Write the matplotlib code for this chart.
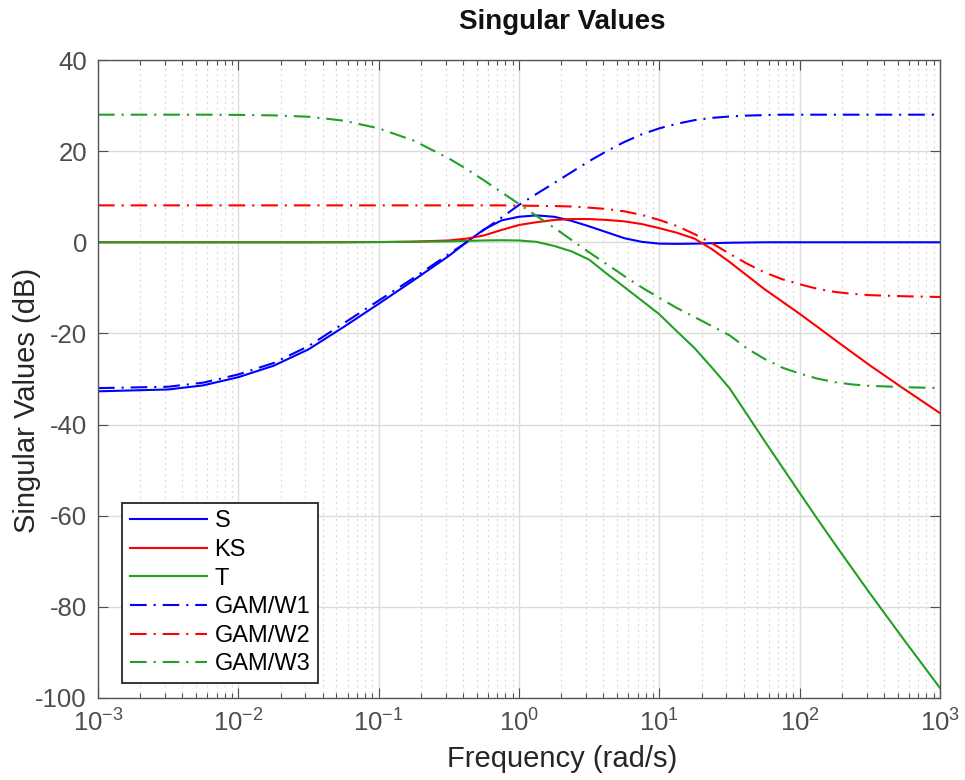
import matplotlib
matplotlib.use("Agg")
import matplotlib.pyplot as plt
from matplotlib.ticker import LogLocator, FixedLocator, NullFormatter

plt.rcParams['font.family'] = ['Liberation Sans', 'DejaVu Sans']
plt.rcParams['mathtext.fontset'] = 'custom'
plt.rcParams['mathtext.rm'] = 'Liberation Sans'
plt.rcParams['mathtext.default'] = 'regular'
plt.rcParams['axes.unicode_minus'] = False
plt.rcParams['lines.scale_dashes'] = False

# ---- data ----
freq = [1e-3, 3.16e-3, 5.62e-3, 1e-2, 1.78e-2, 3.16e-2, 5.62e-2, 0.1, 0.178, 0.316,
        0.422, 0.562, 0.750, 1.0, 1.33, 1.78, 2.37, 3.16, 4.22, 5.62, 7.50, 10.0,
        13.3, 17.8, 23.7, 31.6, 42.2, 56.2, 75.0, 100.0, 133.0, 178.0, 237.0,
        316.0, 562.0, 1000.0]

S_db = [-32.7, -32.3, -31.4, -29.6, -27.1, -23.5, -18.6, -13.5, -8.3, -3.0,
        0.0, 2.8, 4.8, 5.6, 5.9, 5.6, 4.7, 3.5, 2.2, 0.9, 0.1, -0.3,
        -0.35, -0.3, -0.2, -0.1, -0.05, 0.0, 0.0, 0.0, 0.0, 0.0, 0.0,
        0.0, 0.0, 0.0]

KS_db = [0.0, 0.0, 0.0, 0.0, 0.0, 0.0, 0.02, 0.05, 0.15, 0.4,
         0.8, 1.5, 2.7, 3.8, 4.4, 4.9, 5.1, 5.1, 4.9, 4.6, 4.0, 3.1,
         2.1, 0.8, -1.5, -4.3, -7.3, -10.3, -13.0, -15.7, -18.5, -21.4, -24.2,
         -27.0, -32.3, -37.5]

T_db = [0.0, 0.0, 0.0, 0.0, 0.0, 0.0, 0.0, 0.05, 0.1, 0.2,
        0.3, 0.4, 0.45, 0.4, 0.1, -0.8, -2.0, -3.8, -6.9, -9.8, -12.8, -15.8,
        -19.5, -23.2, -27.5, -32.0, -37.8, -43.6, -49.3, -55.0, -60.6, -66.2, -71.6,
        -77.0, -87.5, -97.8]

W1_db = [-32.0, -31.7, -30.8, -29.0, -26.5, -22.8, -17.8, -12.8, -7.8, -2.6,
         0.0, 2.7, 5.4, 8.2, 10.6, 13.0, 15.4, 17.8, 20.0, 22.0, 23.7, 25.0,
         26.0, 26.8, 27.3, 27.6, 27.8, 27.9, 28.0, 28.0, 28.0, 28.0, 28.0,
         28.0, 28.0, 28.0]

W2_db = [8.1, 8.1, 8.1, 8.1, 8.1, 8.1, 8.1, 8.1, 8.1, 8.1,
         8.1, 8.1, 8.1, 8.05, 8.0, 7.95, 7.85, 7.6, 7.3, 6.8, 6.0, 4.9,
         3.6, 1.8, -0.2, -2.5, -4.7, -6.6, -8.1, -9.2, -10.2, -10.9, -11.3,
         -11.6, -11.85, -12.0]

W3_db = [28.0, 28.0, 28.0, 27.95, 27.85, 27.55, 26.7, 25.0, 22.3, 18.4,
         16.1, 13.6, 11.0, 8.4, 5.8, 3.2, 0.5, -2.2, -4.8, -7.4, -9.9, -12.2,
         -14.4, -16.4, -18.4, -20.4, -23.3, -25.6, -27.5, -28.8, -29.9, -30.7, -31.2,
         -31.5, -31.8, -32.0]

labels = ['S', 'KS', 'T', 'GAM/W1', 'GAM/W2', 'GAM/W3']
xticks = [1e-3, 1e-2, 1e-1, 1e0, 1e1, 1e2, 1e3]
xticklabels = ['$10^{-3}$', '$10^{-2}$', '$10^{-1}$', '$10^{0}$', '$10^{1}$', '$10^{2}$', '$10^{3}$']
yticks = [-100, -80, -60, -40, -20, 0, 20, 40]

# ---- figure ----
fig = plt.figure(figsize=(9.65, 7.8), dpi=100)
ax = fig.add_axes([98/965, 82/780, 842/965, 638/780])

blue = '#0000ff'
red = '#ff0000'
green = '#22a022'
dashdot = (0, (12, 5, 1.5, 5))
lw = 1.5

series = [S_db, KS_db, T_db, W1_db, W2_db, W3_db]
colors = [blue, red, green, blue, red, green]
styles = ['-', '-', '-', dashdot, dashdot, dashdot]
for vals, c, ls, lab in zip(series, colors, styles, labels):
    ax.plot(freq, vals, color=c, linestyle=ls, linewidth=lw, label=lab)

ax.set_xscale('log')
ax.set_xlim(1e-3, 1e3)
ax.set_ylim(-100, 40)
ax.xaxis.set_major_locator(FixedLocator(xticks))
ax.set_xticklabels(xticklabels)
ax.xaxis.set_minor_locator(LogLocator(base=10, subs=range(2, 10), numticks=20))
ax.xaxis.set_minor_formatter(NullFormatter())
ax.set_yticks(yticks)
ax.set_yticklabels([str(v) for v in yticks])

tick_col = '#4d4d4d'
ax.tick_params(which='both', direction='in', top=True, right=True, colors=tick_col,
               labelsize=18.5, width=0.8)
ax.tick_params(which='major', length=7, pad=8)
ax.tick_params(which='minor', length=3.5)
for sp in ax.spines.values():
    sp.set_color('#555555')
    sp.set_linewidth(1.0)

ax.grid(True, which='major', color='#dcdcdc', linewidth=1.0, linestyle='-')
ax.grid(True, which='minor', axis='x', color='#dadada', linewidth=0.9, linestyle=(0, (1.5, 2.5)))
ax.set_axisbelow(True)

fig.text(562/965, 1 - 22/780, 'Singular Values', ha='center', va='center',
         fontsize=20, fontweight='bold', color='#111111')
fig.text(562/965, 1 - 759/780, 'Frequency (rad/s)', ha='center', va='center',
         fontsize=21, color='#262626')
fig.text(27/965, 1 - 400/780, 'Singular Values (dB)', ha='center', va='center',
         rotation=90, fontsize=21, color='#262626')

leg = ax.legend(loc='lower left', bbox_to_anchor=((122-98)/842, (698-683)/638),
                borderaxespad=0, fancybox=False, framealpha=1, edgecolor='#262626',
                fontsize=17, handlelength=3.3, handletextpad=0.3, labelspacing=0.28,
                borderpad=0.32)
leg.get_frame().set_linewidth(1.3)

fig.savefig('out.png', dpi=100)
